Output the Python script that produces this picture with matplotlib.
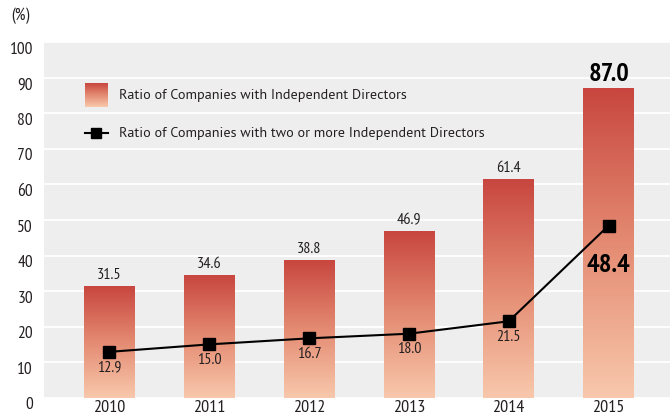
#!/usr/bin/env python3
"""
Ratio of companies with independent directors, 2010-2015.
"""

import numpy as np
import matplotlib
matplotlib.use('Agg')
import matplotlib.pyplot as plt
import matplotlib.transforms as mtransforms
from matplotlib.colors import LinearSegmentedColormap

years = ['2010', '2011', '2012', '2013', '2014', '2015']
ratio_independent = [31.5, 34.6, 38.8, 46.9, 61.4, 87.0]
ratio_two_or_more = [12.9, 15.0, 16.7, 18.0, 21.5, 48.4]
y_ticks = [0, 10, 20, 30, 40, 50, 60, 70, 80, 90, 100]

legend_bar = 'Ratio of Companies with Independent Directors'
legend_line = 'Ratio of Companies with two or more Independent Directors'

plt.rcParams['font.family'] = ['PT Sans Narrow', 'DejaVu Sans']
legend_font = ['PT Sans', 'DejaVu Sans']
text_color = '#231f20'
bg_color = '#eeeeee'

# vertical gradient: top dark red -> bottom pale peach
grad_cmap = LinearSegmentedColormap.from_list('bar_grad', ['#f8c8ac', '#e48b72', '#c8463f'])
grad = np.linspace(0, 1, 256).reshape(-1, 1)

fig = plt.figure(figsize=(6.7, 4.18), dpi=100)
ax = fig.add_axes([0.0657, 0.0486, 0.9343, 0.8502])
ax.set_facecolor(bg_color)
for s in ax.spines.values():
    s.set_visible(False)

x = np.arange(len(years))
width = 0.508

# bars (gradient filled via imshow over each bar)
bars = ax.bar(x, ratio_independent, width, color='none', zorder=2)
for b in bars:
    ax.imshow(grad, cmap=grad_cmap, origin='lower', aspect='auto',
              extent=[b.get_x(), b.get_x() + b.get_width(), 0, b.get_height()],
              zorder=2)

# line with square markers
ax.plot(x, ratio_two_or_more, color='black', linewidth=1.5, marker='s',
        markersize=8, zorder=4)

# value labels
for i, v in enumerate(ratio_independent):
    if i == len(years) - 1:
        ax.annotate(f'{v:.1f}', (x[i], v), xytext=(0, 10), textcoords='offset points',
                    ha='center', va='center', fontsize=19, fontweight='bold', color='black')
    else:
        ax.annotate(f'{v:.1f}', (x[i], v), xytext=(0, 8), textcoords='offset points',
                    ha='center', va='center', fontsize=11.5, color=text_color)
for i, v in enumerate(ratio_two_or_more):
    if i == len(years) - 1:
        ax.annotate(f'{v:.1f}', (x[i], v), xytext=(0, -29), textcoords='offset points',
                    ha='center', va='center', fontsize=19, fontweight='bold', color='black')
    else:
        ax.annotate(f'{v:.1f}', (x[i], v), xytext=(0, -11), textcoords='offset points',
                    ha='center', va='center', fontsize=11.5, color=text_color)

# axes & grid
ax.set_yticks(y_ticks)
ax.set_xticks(x)
ax.set_xticklabels(years)
ax.tick_params(axis='both', length=0, labelsize=12.5, colors=text_color)
ax.tick_params(axis='x', labelsize=13, pad=2)
ax.tick_params(axis='y', pad=8)
ax.yaxis.grid(True, color='white', linewidth=1.3)
ax.set_axisbelow(True)

offset = mtransforms.ScaledTranslation(0, -4 / 72, fig.dpi_scale_trans)
for lab in ax.get_yticklabels():
    lab.set_transform(lab.get_transform() + offset)

# manual legend
ax.imshow(grad, cmap=grad_cmap, origin='lower', aspect='auto',
          extent=[0.0655, 0.1022, 0.8179, 0.8827], transform=ax.transAxes, zorder=3)
ax.plot([0.0655, 0.1022], [0.744, 0.744], color='black', linewidth=1.5,
        transform=ax.transAxes, zorder=3)
ax.plot([0.0838], [0.744], marker='s', markersize=6.5, color='black',
        transform=ax.transAxes, zorder=3)
ax.text(0.1198, 0.849, legend_bar, transform=ax.transAxes, fontsize=10.2,
        family=legend_font, color=text_color, va='center')
ax.text(0.1198, 0.744, legend_line, transform=ax.transAxes, fontsize=10.2,
        family=legend_font, color=text_color, va='center')

ax.set_xlim(-0.656, 5.616)
ax.set_ylim(0, 100)

fig.text(11 / 670, 1 - 16 / 418, '(%)', fontsize=12, color=text_color, va='center', ha='left')

plt.savefig('out.png', dpi=100)
